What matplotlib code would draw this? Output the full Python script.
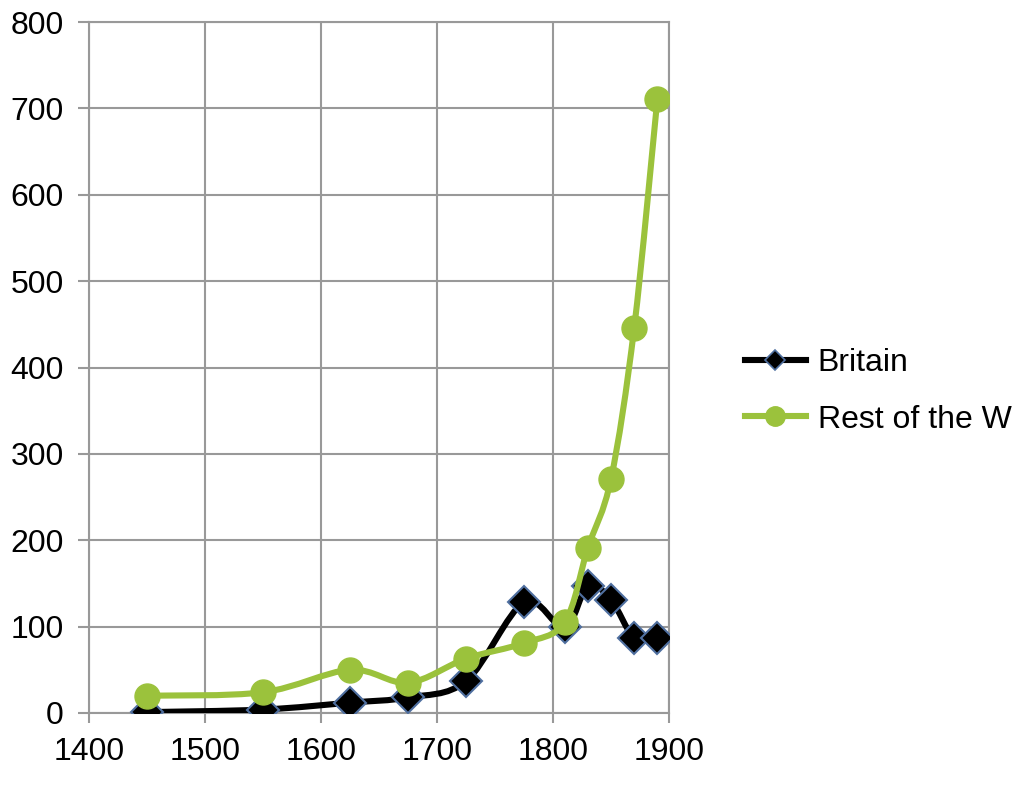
import numpy as np
import matplotlib
matplotlib.use('Agg')
import matplotlib.pyplot as plt
from matplotlib.path import Path
from matplotlib.patches import PathPatch
from matplotlib.lines import Line2D

years = [1450, 1550, 1625, 1675, 1725, 1775, 1810, 1830, 1850, 1870, 1890]
britain = [1, 4, 12, 18, 37, 128, 99, 147, 131, 87, 87]
rest_of_world = [20, 24, 50, 35, 63, 81, 105, 191, 271, 446, 711]
labels = ['Britain', 'Rest of the W']

GREEN = '#9bc23c'
GRID = '#999999'

plt.rcParams['font.family'] = ['Liberation Sans', 'DejaVu Sans']


def smooth_path(xs, ys):
	# catmull-rom style bezier, like excel's smoothed line
	pts = np.column_stack([xs, ys]).astype(float)
	n = len(pts)
	verts = [pts[0]]
	codes = [Path.MOVETO]
	for i in range(n - 1):
		p0 = pts[i - 1] if i > 0 else pts[i]
		p1 = pts[i]
		p2 = pts[i + 1]
		p3 = pts[i + 2] if i + 2 < n else pts[i + 1]
		c1 = p1 + (p2 - p0) / 6
		c2 = p2 - (p3 - p1) / 6
		verts += [c1, c2, p2]
		codes += [Path.CURVE4] * 3
	return Path(verts, codes)


fig = plt.figure(figsize=(10.2, 7.85), dpi=100)
ax = fig.add_axes([89 / 1020, 1 - 713 / 785, (669 - 89) / 1020, (713 - 22) / 785])

ax.add_patch(PathPatch(smooth_path(years, britain), fill=False, color='black', lw=4.4, capstyle='round', zorder=3))
ax.plot(years, britain, ls='none', marker='D', ms=16, mfc='black', mec='#4f6f9f', mew=1.5, zorder=4)

ax.add_patch(PathPatch(smooth_path(years, rest_of_world), fill=False, color=GREEN, lw=4.4, capstyle='round', zorder=5))
ax.plot(years, rest_of_world, ls='none', marker='o', ms=18, mfc=GREEN, mec=GREEN, zorder=6)

ax.set_xlim(1400, 1900)
ax.set_ylim(0, 800)
ax.set_xticks(range(1400, 1901, 100))
ax.set_yticks(range(0, 801, 100))
ax.grid(True, color=GRID, lw=1.5)
ax.set_axisbelow(True)
for s in ax.spines.values():
	s.set_color(GRID)
	s.set_linewidth(1.5)
ax.tick_params(axis='both', colors=GRID, labelcolor='black', labelsize=23, length=7, width=1.5, pad=10)
ax.tick_params(axis='y', length=8, pad=10)

handles = [
	Line2D([], [], color='black', lw=4.4, marker='D', ms=10, mfc='black', mec='#4f6f9f', mew=1.2),
	Line2D([], [], color=GREEN, lw=4.4, marker='o', ms=14, mfc=GREEN, mec=GREEN),
]
fig.legend(handles, labels, loc='center left', bbox_to_anchor=(745 / 1020, 1 - 391.5 / 785),
	frameon=False, fontsize=23, handlelength=1.9, handletextpad=0.38, labelspacing=0.82, borderpad=0, borderaxespad=0)

fig.savefig('out.png', dpi=100)
